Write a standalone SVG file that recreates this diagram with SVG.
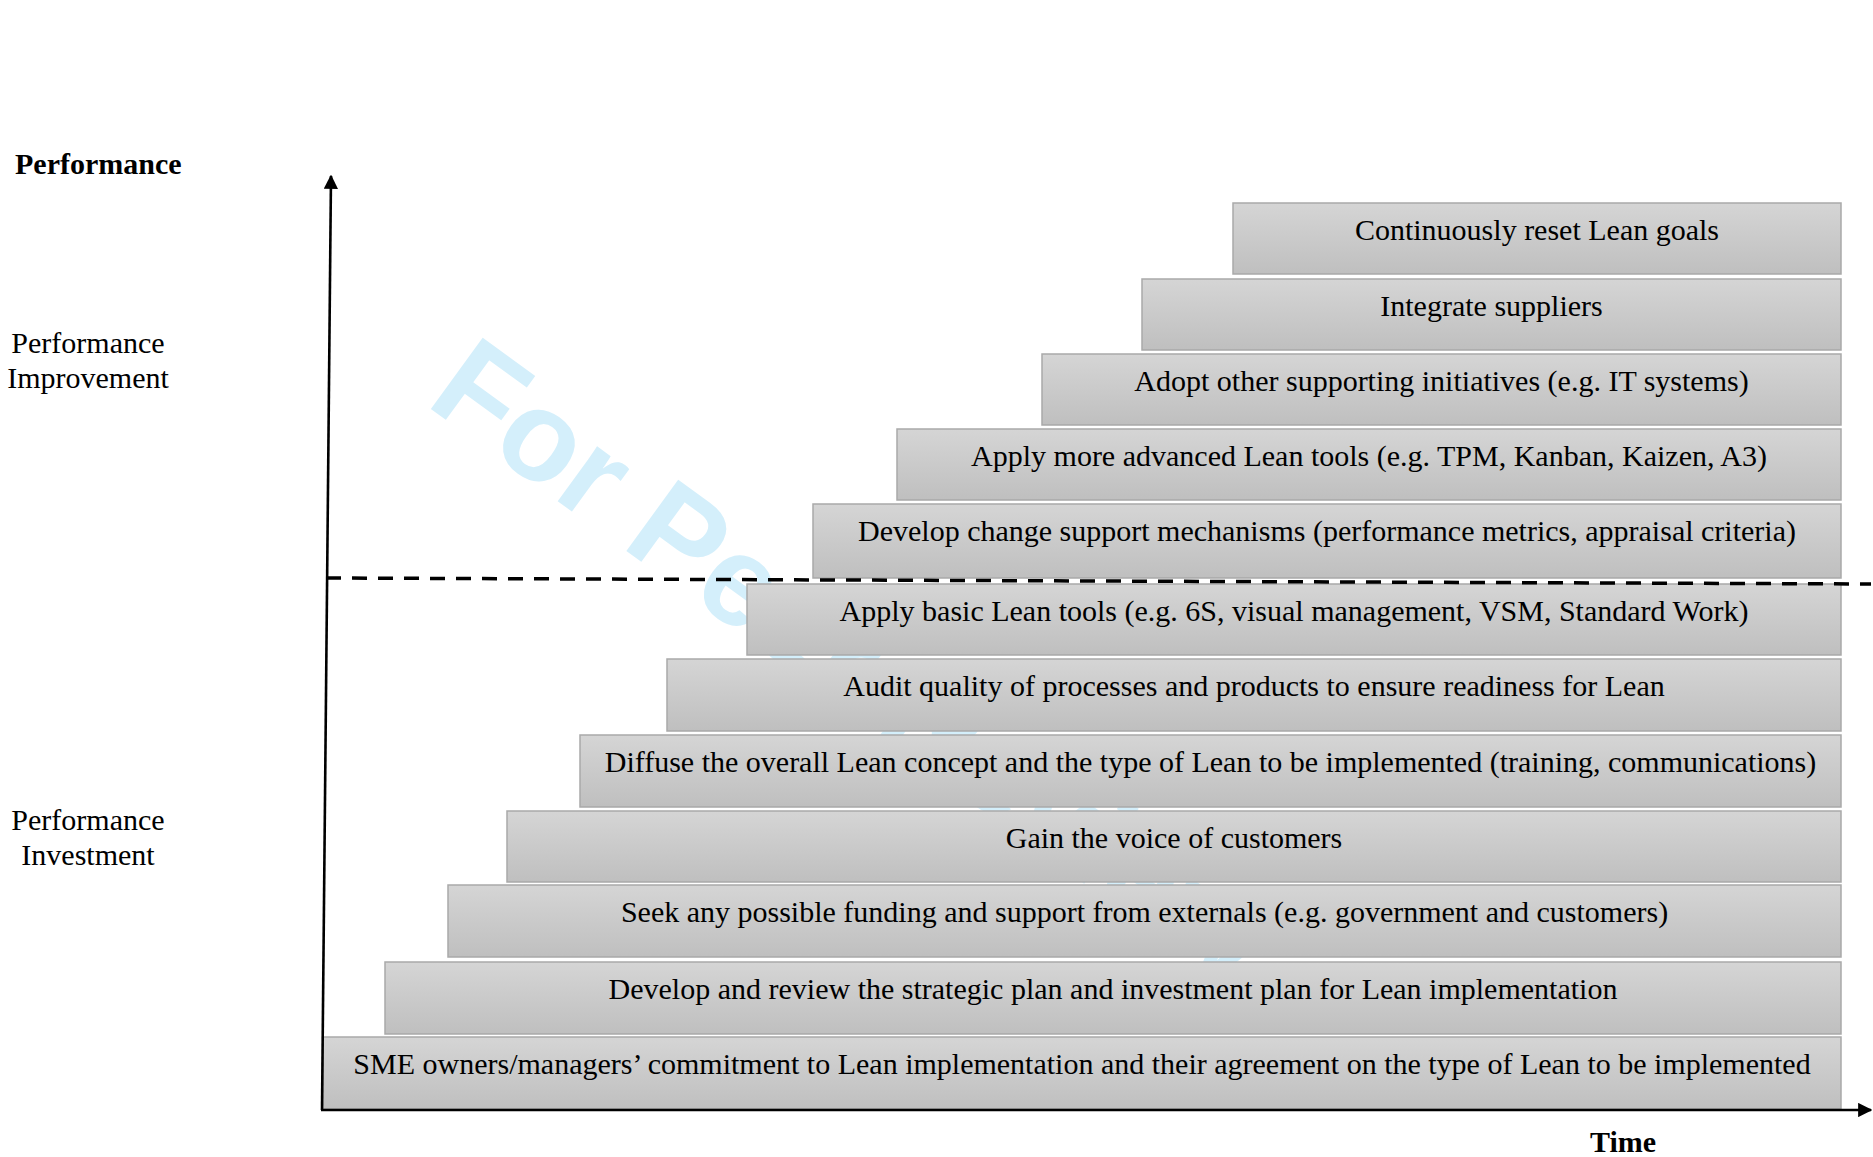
<svg xmlns="http://www.w3.org/2000/svg" width="1873" height="1157" viewBox="0 0 1873 1157">
  <style>
    .box { fill: url(#stepFill); stroke: #a9a9a9; stroke-width: 1.5; }
    .lbl { font-family: "Liberation Serif", "Times New Roman", serif; font-size: 30px; fill: #000; text-anchor: middle; }
    .side { font-family: "Liberation Serif", "Times New Roman", serif; font-size: 30px; fill: #000; text-anchor: middle; }
    .bold { font-family: "Liberation Serif", "Times New Roman", serif; font-size: 30px; font-weight: bold; fill: #000; }
    .axis { stroke: #000; stroke-width: 2.6; fill: none; }
    .mark { font-family: "Liberation Sans", Arial, sans-serif; font-weight: bold; font-size: 128px; fill: #d4effb; }
  </style>
  <defs>
    <linearGradient id="stepFill" x1="0" y1="0" x2="0" y2="1">
      <stop offset="0" stop-color="#d5d5d5"/>
      <stop offset="1" stop-color="#bfbfbf"/>
    </linearGradient>
    <marker id="arrowHead" viewBox="0 0 10 10" refX="9" refY="5" markerWidth="5.5" markerHeight="5.5" markerUnits="strokeWidth" orient="auto">
      <path d="M0,0 L10,5 L0,10 z" fill="#000"/>
    </marker>
  </defs>

  <rect width="1873" height="1157" fill="#fff"/>

  <!-- background stamp -->
  <text class="mark" transform="translate(424,404) rotate(36)">For Peer Review</text>

  <!-- axis labels -->
  <text class="bold" x="15" y="174">Performance</text>
  <text class="side" x="88" y="353">Performance</text>
  <text class="side" x="88" y="388">Improvement</text>
  <text class="side" x="88" y="830">Performance</text>
  <text class="side" x="88" y="865">Investment</text>
  <text class="bold" x="1623" y="1152" text-anchor="middle">Time</text>

  <!-- staircase of steps, bottom to top -->
  <g id="step-sme">
    <rect class="box" x="323" y="1037" width="1518" height="72"/>
    <text class="lbl" x="1082" y="1074">SME owners/managers’ commitment to Lean implementation and their agreement on the type of Lean to be implemented</text>
  </g>
  <g id="step-plan">
    <rect class="box" x="385" y="962" width="1456" height="72"/>
    <text class="lbl" x="1113" y="999">Develop and review the strategic plan and investment plan for Lean implementation</text>
  </g>
  <g id="step-funding">
    <rect class="box" x="448" y="885" width="1393" height="72"/>
    <text class="lbl" x="1144.5" y="922">Seek any possible funding and support from externals (e.g. government and customers)</text>
  </g>
  <g id="step-customers">
    <rect class="box" x="507" y="811" width="1334" height="71"/>
    <text class="lbl" x="1174" y="848">Gain the voice of customers</text>
  </g>
  <g id="step-diffuse">
    <rect class="box" x="580" y="735" width="1261" height="72"/>
    <text class="lbl" x="1210.5" y="772">Diffuse the overall Lean concept and the type of Lean to be implemented (training, communications)</text>
  </g>
  <g id="step-audit">
    <rect class="box" x="667" y="659" width="1174" height="72"/>
    <text class="lbl" x="1254" y="696">Audit quality of processes and products to ensure readiness for Lean</text>
  </g>
  <g id="step-basic-tools">
    <rect class="box" x="747" y="584" width="1094" height="71"/>
    <text class="lbl" x="1294" y="621">Apply basic Lean tools (e.g. 6S, visual management, VSM, Standard Work)</text>
  </g>
  <g id="step-support">
    <rect class="box" x="813" y="504" width="1028" height="74"/>
    <text class="lbl" x="1327" y="541">Develop change support mechanisms (performance metrics, appraisal criteria)</text>
  </g>
  <g id="step-advanced-tools">
    <rect class="box" x="897" y="429" width="944" height="71"/>
    <text class="lbl" x="1369" y="466">Apply more advanced Lean tools (e.g. TPM, Kanban, Kaizen, A3)</text>
  </g>
  <g id="step-initiatives">
    <rect class="box" x="1042" y="354" width="799" height="71"/>
    <text class="lbl" x="1441.5" y="391">Adopt other supporting initiatives (e.g. IT systems)</text>
  </g>
  <g id="step-suppliers">
    <rect class="box" x="1142" y="279" width="699" height="71"/>
    <text class="lbl" x="1491.5" y="316">Integrate suppliers</text>
  </g>
  <g id="step-goals">
    <rect class="box" x="1233" y="203" width="608" height="71"/>
    <text class="lbl" x="1537" y="240">Continuously reset Lean goals</text>
  </g>

  <!-- axes and threshold line -->
  <g id="connectors">
    <line class="axis" x1="322" y1="1110" x2="331" y2="176" marker-end="url(#arrowHead)"/>
    <line class="axis" x1="321" y1="1110" x2="1871" y2="1110" marker-end="url(#arrowHead)"/>
    <line x1="326" y1="578" x2="1871" y2="584" stroke="#000" stroke-width="3.5" stroke-dasharray="15 11"/>
  </g>
</svg>
